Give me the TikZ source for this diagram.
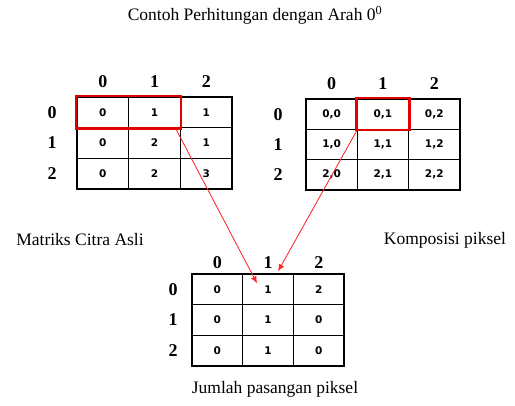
\documentclass[tikz,border=0pt]{standalone}
\usepackage{fontspec}
\setmainfont{Liberation Serif}
\newfontfamily\cellfont{DejaVu Sans}
\usetikzlibrary{arrows.meta}
\tikzset{
  cellbox/.style={draw=black, line width=1.5pt, rectangle, inner sep=0pt,
    minimum width=#1, font=\cellfont\bfseries\fontsize{10.5}{12}\selectfont},
  hdr/.style={font=\bfseries\fontsize{18}{20}\selectfont, inner sep=0pt},
  captext/.style={font=\fontsize{17.5}{20}\selectfont, inner sep=0pt},
  redbox/.style={draw=red!90!black, line width=2.4pt},
  link/.style={draw=red!85, line width=0.8pt, -{Latex[length=7pt,width=6pt]}, fill=red!85},
}
\begin{document}
\begin{tikzpicture}[x=1pt,y=-1pt]
\useasboundingbox (0,0) rectangle (515,406);
\node[captext] (title) at (255,15) {Contoh Perhitungan dengan Arah 0\textsuperscript{0}};
% left grid
\def\lx{77}\def\ly{97}\def\lw{51.7}\def\lh{30.7}
\foreach \r/\row in {0/{0,1,1},1/{0,2,1},2/{0,2,3}}{
  \foreach \v [count=\c from 0] in \row {
    \node[cellbox=\lw pt, minimum height=\lh pt] (L\r\c) at ({\lx+(\c+0.5)*\lw},{\ly+(\r+0.5)*\lh}) {\v};
  }
}
\foreach \i in {0,1,2}{
  \node[hdr] (Lc\i) at ({\lx+(\i+0.5)*\lw},82) {\i};
  \node[hdr] (Lr\i) at (52,{\ly+(\i+0.5)*\lh}) {\i};
}
\draw[redbox] (L00.north west) rectangle (L01.south east);
% right grid
\def\rx{306}\def\ry{99}\def\rw{51.3}\def\rh{30.3}
\foreach \r in {0,1,2}{
  \foreach \c in {0,1,2}{
    \node[cellbox=\rw pt, minimum height=\rh pt] (R\r\c) at ({\rx+(\c+0.5)*\rw},{\ry+(\r+0.5)*\rh}) {\r,\c};
  }
}
\foreach \i in {0,1,2}{
  \node[hdr] (Rc\i) at ({\rx+(\i+0.5)*\rw},84) {\i};
  \node[hdr] (Rr\i) at (278,{\ry+(\i+0.5)*\rh}) {\i};
}
\draw[redbox] (R01.north west) rectangle (R01.south east);
% bottom grid
\def\bx{192}\def\by{274}\def\bw{50.7}\def\bh{30.7}
\foreach \r/\row in {0/{0,1,2},1/{0,1,0},2/{0,1,0}}{
  \foreach \v [count=\c from 0] in \row {
    \node[cellbox=\bw pt, minimum height=\bh pt] (B\r\c) at ({\bx+(\c+0.5)*\bw},{\by+(\r+0.5)*\bh}) {\v};
  }
}
\foreach \i in {0,1,2}{
  \node[hdr] (Bc\i) at ({\bx+(\i+0.5)*\bw},263) {\i};
  \node[hdr] (Br\i) at (173,{\by+(\i+0.5)*\bh}) {\i};
}
% captions
\node[captext] (capL) at (80,240) {Matriks Citra Asli};
\node[captext] (capR) at (445,240) {Komposisi piksel};
\node[captext] (capB) at (275,389) {Jumlah pasangan piksel};
% arrows
\draw[link] ([xshift=-5pt,yshift=-1pt]L01.south east) -- ([xshift=-11pt,yshift=6pt]B01.center);
\draw[link] ([yshift=-1pt]R01.south west) -- ([xshift=10pt,yshift=2pt]B01.north);
\end{tikzpicture}
\end{document}
